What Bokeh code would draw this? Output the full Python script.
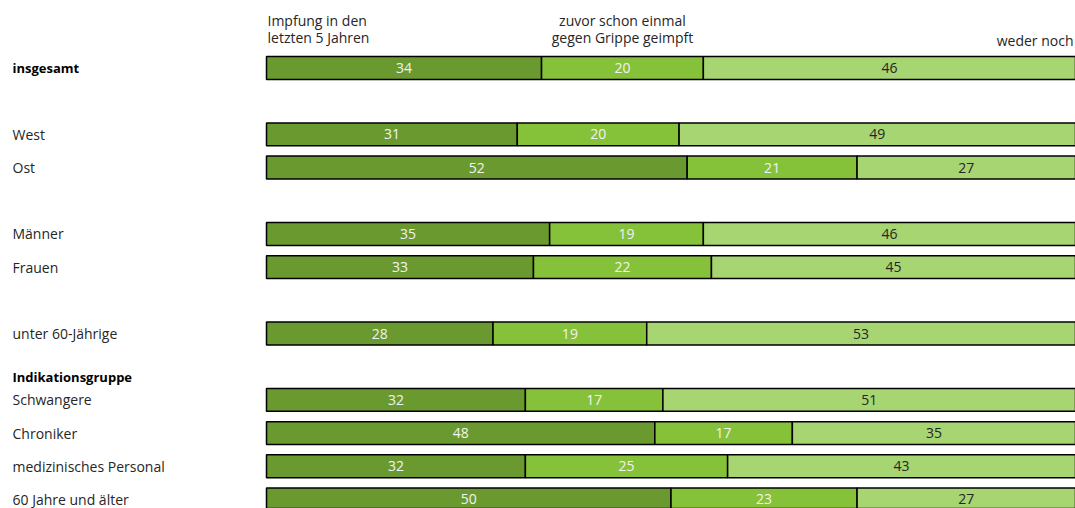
from bokeh.plotting import figure
from bokeh.models import Range1d, ColumnDataSource
from bokeh.core.properties import value
from bokeh.embed import file_html
from bokeh.resources import INLINE
import numpy as np

# ---- data ----
groups = ["insgesamt", "West", "Ost", "Männer", "Frauen", "unter 60-Jährige",
          "Schwangere", "Chroniker", "medizinisches Personal", "60 Jahre und älter"]
row_pos = [0, 2, 3, 5, 6, 8, 10, 11, 12, 13]
recent = [34, 31, 52, 35, 33, 28, 32, 48, 32, 50]
earlier = [20, 20, 21, 19, 22, 19, 17, 17, 25, 23]
neither = [46, 49, 27, 46, 45, 53, 51, 35, 43, 27]
series_names = ["Impfung in den\nletzten 5 Jahren",
                "zuvor schon einmal\ngegen Grippe geimpft",
                "weder noch"]
heading = "Indikationsgruppe"
heading_pos = 9.3

colors = ["#6A9A2F", "#86C13A", "#A7D571"]
label_colors = ["#F2F2F2", "#F2F2F2", "#262626"]
FONT = "Open Sans"

# ---- layout ----
W, H = 1075, 508
px_per_unit = 8.09
left_px = 266
x0 = -left_px / px_per_unit
x1 = x0 + W / px_per_unit
row_px = 33.19
first_row_px = 67.5
y_top = -first_row_px / row_px
y_bot = y_top + H / row_px

p = figure(width=W, height=H, output_backend="svg", toolbar_location=None,
           x_range=Range1d(x0, x1), y_range=Range1d(y_bot, y_top),
           min_border=0, min_border_left=0, min_border_right=0,
           min_border_top=0, min_border_bottom=0)
p.axis.visible = False
p.grid.visible = False
p.outline_line_color = None
p.background_fill_color = "white"

series = [np.array(recent), np.array(earlier), np.array(neither)]
lefts = np.zeros(len(groups))
for k, vals in enumerate(series):
    rights = lefts + vals
    src = ColumnDataSource(dict(y=row_pos, left=lefts, right=rights,
                                mid=(lefts + rights) / 2,
                                lab=[str(v) for v in vals]))
    p.hbar(y="y", left="left", right="right", height=0.69, source=src,
           fill_color=colors[k], line_color="black", line_width=1.5)
    p.text(x="mid", y="y", text="lab", source=src, text_align="center",
           text_baseline="middle", text_font=value(FONT),
           text_font_size="14px", text_color=label_colors[k])
    lefts = rights

# category labels
bold_flags = [g == "insgesamt" for g in groups]
norm_idx = [i for i, b in enumerate(bold_flags) if not b]
bold_idx = [i for i, b in enumerate(bold_flags) if b]
p.text(x=[x0] * len(norm_idx), y=[row_pos[i] for i in norm_idx],
       text=[groups[i] for i in norm_idx], x_offset=12,
       text_align="left", text_baseline="middle", text_font=value(FONT),
       text_font_size="14px", text_color="#262626")
p.text(x=[x0] * len(bold_idx), y=[row_pos[i] for i in bold_idx],
       text=[groups[i] for i in bold_idx], x_offset=12,
       text_align="left", text_baseline="middle", text_font=value(FONT),
       text_font_size="13px", text_font_style="bold", text_color="black")
p.text(x=[x0], y=[heading_pos], text=[heading], x_offset=12,
       text_align="left", text_baseline="middle", text_font=value(FONT),
       text_font_size="13px", text_font_style="bold", text_color="black")

# series headers (above the first row)
hdr_x = [0, recent[0] + earlier[0] / 2, 100]
hdr_align = ["left", "center", "right"]
hdr_xoff = [1, 0, -2]
for k, name in enumerate(series_names):
    lines = name.split("\n")
    n = len(lines)
    for j, line in enumerate(lines):
        y_line = -0.92 - (n - 1 - j) * 0.51 + (0.08 if n == 1 else 0)
        p.text(x=[hdr_x[k]], y=[y_line], text=[line], x_offset=hdr_xoff[k],
               text_align=hdr_align[k], text_baseline="middle",
               text_font=value(FONT), text_font_size="14px",
               text_color="#262626")

open("out.html", "w").write(file_html(p, INLINE))
